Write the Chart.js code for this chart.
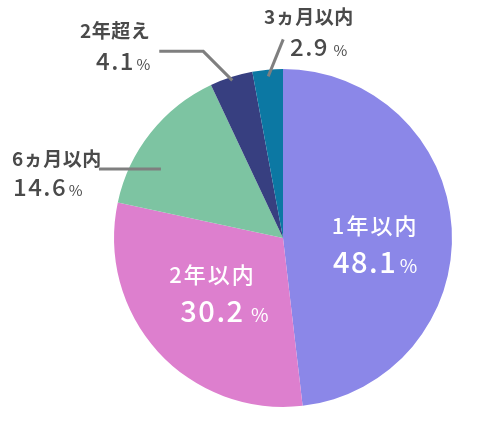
<!DOCTYPE html>
<html>
<head>
<meta charset="utf-8">
<script src="https://cdn.jsdelivr.net/npm/chart.js@4"></script>
<style>
  html, body { margin: 0; padding: 0; background: #fff; }
  #wrap { width: 485px; height: 427px; }
</style>
</head>
<body>
<div id="wrap"><canvas id="pieChart" width="485" height="427"></canvas></div>
<script>
// data
const categories = ['1年以内', '2年以内', '6ヵ月以内', '2年超え', '3ヵ月以内'];
const shares = [48.1, 30.2, 14.6, 4.1, 2.9];
const valueLabels = ['48.1', '30.2', '14.6', '4.1', '2.9'];

const sliceColors = ['#8b87e8', '#dd7fce', '#7dc4a2', '#373f80', '#0c78a3'];
const FONT = '"Noto Sans CJK JP", "Noto Sans", sans-serif';

// label layout: inside labels follow the arc's mid angle, outside ones get a leader line
const labelLayout = [
  { inside: true, frac: 0.54, dx: 0, dy: 12, ndx: 0, vdx: 1, gap: 4 },
  { inside: true, frac: 0.54, dx: 2, dy: -6, ndx: -6, vdx: 7, gap: 8 },
  { inside: false, t: 0.33, r: 0.83, line: [[-62, 0]], nameX: 12, nameY: 159, valX: 13, valY: 187, gap: 3 },
  { inside: false, t: 0.5, r: 0.98, line: [[-29, -29], [-73, -29]], nameX: 80, nameY: 31, valX: 96, valY: 61, gap: 3 },
  { inside: false, t: 0.5, r: 0.96, line: [[15, -37]], nameX: 264, nameY: 17, valX: 290, valY: 47, gap: 6 }
];

function drawValue(ctx, num, x, y, numFont, pctFont, numSize, spacing, gap, color, align) {
  ctx.save();
  ctx.fillStyle = color;
  ctx.textBaseline = 'alphabetic';
  ctx.textAlign = 'left';
  ctx.letterSpacing = spacing + 'px';
  ctx.font = numFont;
  const numW = ctx.measureText(num).width - spacing;
  ctx.letterSpacing = '0px';
  ctx.font = pctFont;
  const pctW = ctx.measureText('%').width;
  const total = numW + gap + pctW;
  let left = x;
  if (align === 'center') left = x - total / 2;
  const base = y + numSize * 0.36;
  ctx.letterSpacing = spacing + 'px';
  ctx.font = numFont;
  ctx.fillText(num, left, base);
  ctx.letterSpacing = '0px';
  ctx.font = pctFont;
  ctx.fillText('%', left + numW + gap, base);
  ctx.restore();
}

const pieLabels = {
  id: 'pieLabels',
  afterDatasetsDraw(chart) {
    const ctx = chart.ctx;
    const meta = chart.getDatasetMeta(0);
    meta.data.forEach((arc, i) => {
      const p = arc.getProps(['x', 'y', 'startAngle', 'endAngle', 'outerRadius'], true);
      const L = labelLayout[i];
      if (L.inside) {
        const mid = (p.startAngle + p.endAngle) / 2;
        const cx = p.x + Math.cos(mid) * p.outerRadius * L.frac + L.dx;
        const cy = p.y + Math.sin(mid) * p.outerRadius * L.frac + L.dy;
        ctx.save();
        ctx.fillStyle = '#ffffff';
        ctx.font = '500 22px ' + FONT;
        ctx.letterSpacing = '2px';
        ctx.textAlign = 'center';
        ctx.textBaseline = 'middle';
        ctx.fillText(categories[i], cx + L.ndx + 1, cy - 19);
        ctx.restore();
        drawValue(ctx, valueLabels[i], cx + L.vdx, cy + 18,
          '500 29px ' + FONT, '400 19px ' + FONT, 29, 1.5, L.gap, '#ffffff', 'center');
      } else {
        const a = p.startAngle + (p.endAngle - p.startAngle) * L.t;
        const ex = p.x + Math.cos(a) * p.outerRadius * L.r;
        const ey = p.y + Math.sin(a) * p.outerRadius * L.r;
        ctx.save();
        ctx.strokeStyle = '#7f7f7f';
        ctx.lineWidth = 3;
        ctx.beginPath();
        ctx.moveTo(ex, ey);
        L.line.forEach(pt => ctx.lineTo(ex + pt[0], ey + pt[1]));
        ctx.stroke();
        ctx.fillStyle = '#4a4a4a';
        ctx.font = '600 19px ' + FONT;
        ctx.letterSpacing = '0.5px';
        ctx.textAlign = 'left';
        ctx.textBaseline = 'middle';
        ctx.fillText(categories[i], L.nameX, L.nameY);
        ctx.restore();
        drawValue(ctx, valueLabels[i], L.valX, L.valY,
          '500 24px ' + FONT, '400 15px ' + FONT, 24, 1.5, L.gap, '#4a4a4a', 'left');
      }
    });
  }
};

const ctx = document.getElementById('pieChart');
new Chart(ctx, {
  type: 'pie',
  data: {
    labels: categories,
    datasets: [{
      data: shares,
      backgroundColor: sliceColors,
      borderWidth: 0
    }]
  },
  options: {
    responsive: false,
    animation: false,
    layout: { padding: { top: 69, bottom: 20, left: 114, right: 33 } },
    plugins: {
      legend: { display: false },
      tooltip: { enabled: false }
    }
  },
  plugins: [pieLabels]
});
</script>
</body>
</html>
